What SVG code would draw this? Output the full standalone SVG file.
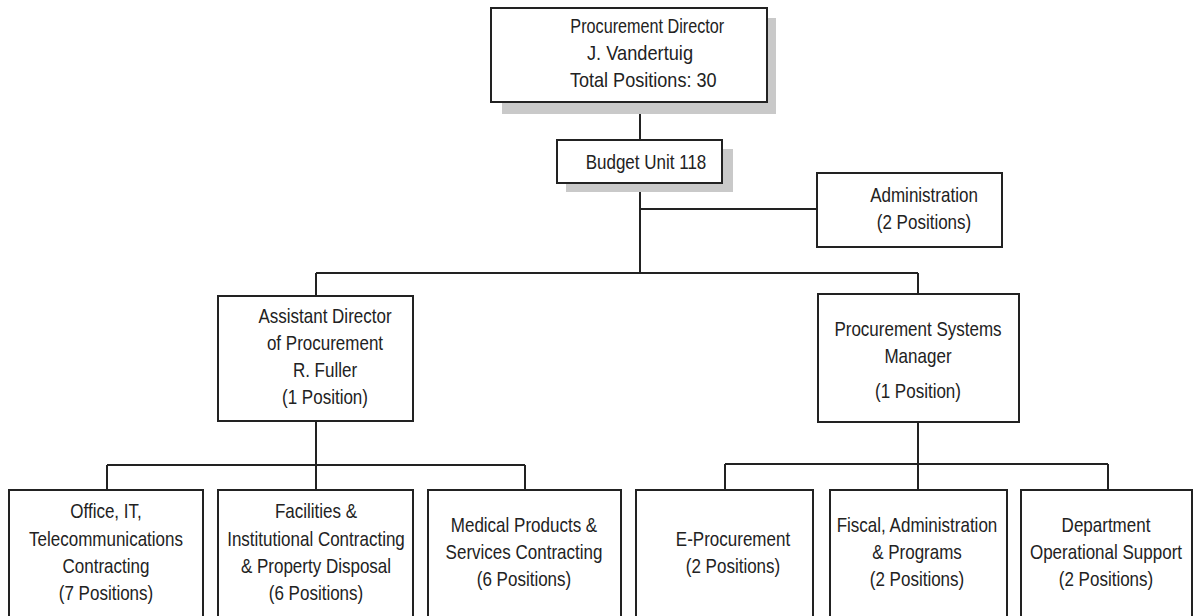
<svg xmlns="http://www.w3.org/2000/svg" width="1193" height="616" viewBox="0 0 1193 616">
  <style>
    .box { fill: #ffffff; stroke: #222222; stroke-width: 2; }
    .shadow { fill: #c9c9c9; }
    .link { fill: none; stroke: #222222; stroke-width: 2; }
    text { font-family: "Liberation Sans", Arial, sans-serif; font-size: 21px; fill: #222222; text-anchor: middle; }
  </style>
  <rect width="1193" height="616" fill="#ffffff"/>

  <!-- connectors -->
  <g id="connectors" class="link">
    <path d="M640 102 V140"/>
    <path d="M640 183 V273"/>
    <path d="M640 209 H817"/>
    <path d="M316 273 H918"/>
    <path d="M316 273 V296"/>
    <path d="M918 273 V294"/>
    <path d="M316 421 V490"/>
    <path d="M107 465 H525"/>
    <path d="M107 465 V490"/>
    <path d="M525 465 V490"/>
    <path d="M918 422 V490"/>
    <path d="M725 464 H1108"/>
    <path d="M725 464 V490"/>
    <path d="M1108 464 V490"/>
  </g>

  <!-- labels are set in a condensed face: the regular sans squeezed horizontally about each centre -->
  <g id="director">
    <rect class="shadow" x="502" y="18" width="274" height="96"/>
    <rect class="box" x="491" y="8" width="276" height="94"/>
    <g transform="translate(640 0) scale(0.81 1)">
      <text x="9" y="33" textLength="190" lengthAdjust="spacingAndGlyphs">Procurement Director</text>
      <text x="0" y="60" textLength="131" lengthAdjust="spacingAndGlyphs">J. Vandertuig</text>
      <text x="4" y="87" textLength="181" lengthAdjust="spacingAndGlyphs">Total Positions: 30</text>
    </g>
  </g>

  <g id="budget-unit">
    <rect class="shadow" x="566" y="149" width="167" height="43"/>
    <rect class="box" x="557" y="140" width="165" height="43"/>
    <g transform="translate(646 0) scale(0.81 1)">
      <text y="169">Budget Unit 118</text>
    </g>
  </g>

  <g id="administration">
    <rect class="box" x="817" y="173" width="185" height="74"/>
    <g transform="translate(924 0) scale(0.81 1)">
      <text y="202">Administration</text>
      <text y="229">(2 Positions)</text>
    </g>
  </g>

  <g id="assistant-director">
    <rect class="box" x="218" y="296" width="195" height="125"/>
    <g transform="translate(325 0) scale(0.81 1)">
      <text y="323">Assistant Director</text>
      <text y="350">of Procurement</text>
      <text y="377">R. Fuller</text>
      <text y="404">(1 Position)</text>
    </g>
  </g>

  <g id="systems-manager">
    <rect class="box" x="818" y="294" width="201" height="128"/>
    <g transform="translate(918 0) scale(0.81 1)">
      <text y="336">Procurement Systems</text>
      <text y="363">Manager</text>
      <text y="398">(1 Position)</text>
    </g>
  </g>

  <g id="office-it">
    <rect class="box" x="9" y="490" width="194" height="140"/>
    <g transform="translate(106 0) scale(0.81 1)">
      <text y="518">Office, IT,</text>
      <text y="546">Telecommunications</text>
      <text y="573">Contracting</text>
      <text y="600">(7 Positions)</text>
    </g>
  </g>

  <g id="facilities">
    <rect class="box" x="218" y="490" width="195" height="140"/>
    <g transform="translate(316 0) scale(0.81 1)">
      <text y="518">Facilities &amp;</text>
      <text y="546">Institutional Contracting</text>
      <text y="573">&amp; Property Disposal</text>
      <text y="600">(6 Positions)</text>
    </g>
  </g>

  <g id="medical">
    <rect class="box" x="428" y="490" width="193" height="140"/>
    <g transform="translate(524 0) scale(0.81 1)">
      <text y="532">Medical Products &amp;</text>
      <text y="559">Services Contracting</text>
      <text y="586">(6 Positions)</text>
    </g>
  </g>

  <g id="e-procurement">
    <rect class="box" x="636" y="490" width="177" height="140"/>
    <g transform="translate(733 0) scale(0.81 1)">
      <text y="546">E-Procurement</text>
      <text y="573">(2 Positions)</text>
    </g>
  </g>

  <g id="fiscal">
    <rect class="box" x="830" y="490" width="177" height="140"/>
    <g transform="translate(917 0) scale(0.81 1)">
      <text y="532">Fiscal, Administration</text>
      <text y="559">&amp; Programs</text>
      <text y="586">(2 Positions)</text>
    </g>
  </g>

  <g id="operational-support">
    <rect class="box" x="1021" y="490" width="171" height="140"/>
    <g transform="translate(1106 0) scale(0.81 1)">
      <text y="532">Department</text>
      <text y="559">Operational Support</text>
      <text y="586">(2 Positions)</text>
    </g>
  </g>
</svg>
